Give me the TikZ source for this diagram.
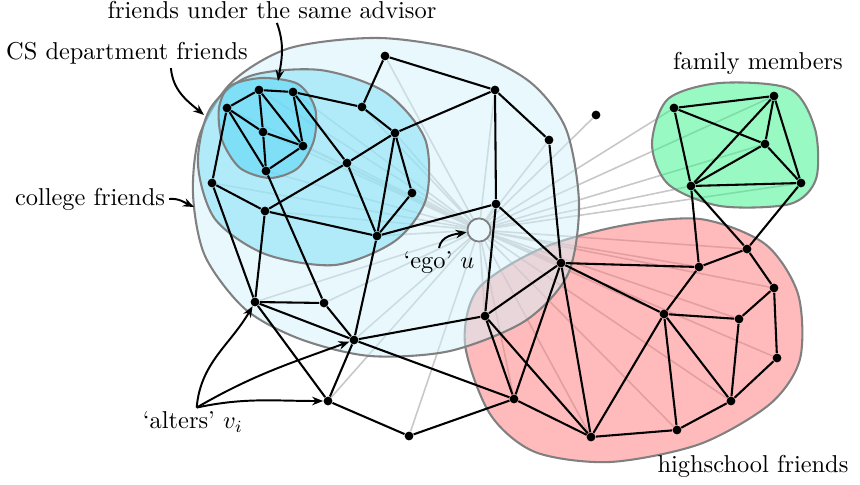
\documentclass[tikz,border=0pt]{standalone}
\usepackage{tikz}
\usetikzlibrary{arrows.meta, positioning, calc}
\definecolor{colblue}{RGB}{209,241,251}
\definecolor{csblue}{RGB}{124,224,247}
\definecolor{advblue}{RGB}{78,212,246}
\definecolor{famgreen}{RGB}{51,243,133}
\definecolor{hsred}{RGB}{255,119,119}
\definecolor{blobline}{RGB}{128,128,128}
\definecolor{egogray}{RGB}{200,200,200}
\pgfdeclarelayer{egoties}
\pgfdeclarelayer{blobs}
\pgfsetlayers{egoties,blobs,main}
\tikzset{
  alter/.style={circle, fill=black, inner sep=0pt, minimum size=3.6pt},
  egonode/.style={circle, draw=blobline, line width=0.75pt,
    minimum size=9.5pt, inner sep=0pt},
  blob/.style={draw=blobline, line width=0.85pt, fill opacity=0.5},
  tie/.style={line width=0.85pt, color=black},
  egotie/.style={line width=0.65pt, color=egogray},
  lbl/.style={font=\normalsize, inner sep=1.5pt},
  arrow/.style={-{Stealth[length=4.5pt,width=3.5pt]}, line width=0.8pt}
}

\begin{document}
\begin{tikzpicture}[x=0.0144cm, y=0.0144cm]
  \useasboundingbox (0,0) rectangle (860,484);

  % Ego in the middle
  \node[egonode] (ego) at (479,254) {};

  % Alters, each tied to the ego
  \foreach \n/\x/\y in {adv1/227/376, adv2/259/394, adv3/293/392, adv4/263/352,
      adv5/303/338, adv6/266/313,
      cs1/212/301, cs2/265/273, cs3/362/377, cs4/395/351, cs5/347/321,
      cs6/412/291, cs7/377/248,
      col1/385/428, col2/495/394, col3/549/344, col4/496/280, col5/255/182,
      col6/324/181, col7/354/144, col8/485/168, col9/561/221,
      lone1/596/369, lone2/328/83, lone3/409/48,
      hs1/514/85, hs2/591/47, hs3/664/170, hs4/699/217, hs5/747/235,
      hs6/774/196, hs7/739/165, hs8/777/126, hs9/731/83, hs10/677/54,
      fam1/674/376, fam2/774/388, fam3/765/340, fam4/691/298, fam5/801/301}{
    \node[alter] (\n) at (\x,\y) {};
    \begin{pgfonlayer}{egoties}
      \draw[egotie] (ego) -- (\n);
    \end{pgfonlayer}
  }

  % Circles of friends
  \begin{pgfonlayer}{blobs}
    \draw[blob, fill=hsred] plot[smooth cycle] coordinates {(465,140) (478,195)
      (540,235) (620,258) (700,265) (765,240) (798,190) (800,125) (770,80)
      (700,40) (610,22) (535,32) (490,70)};
    \draw[blob, fill=famgreen] plot[smooth cycle] coordinates {(652,340) (668,385)
      (720,401) (790,395) (815,355) (816,305) (790,280) (720,278) (668,300)};
    \draw[blob, fill=colblue] plot[smooth cycle] coordinates {(193,290) (200,350)
      (232,402) (290,436) (380,446) (470,432) (530,402) (566,355) (579,280)
      (568,210) (525,163) (450,133) (370,128) (300,145) (245,175) (205,228)};
    \draw[blob, fill=csblue] plot[smooth cycle] coordinates {(198,320) (210,375)
      (250,408) (320,414) (385,392) (425,345) (426,285) (395,243) (335,219)
      (265,230) (215,265)};
    \draw[blob, fill=advblue] plot[smooth cycle] coordinates {(219,376) (230,398)
      (262,406) (298,400) (315,376) (314,344) (298,316) (270,306) (240,316)
      (222,344)};
  \end{pgfonlayer}

  % Ties between alters
  \foreach \u/\v in {adv1/adv2, adv2/adv3, adv1/adv4, adv1/adv6, adv2/adv4,
      adv4/adv6, adv2/adv5, adv4/adv5, adv3/adv5, adv5/adv6, adv3/cs3, adv3/cs5,
      adv1/cs1, adv6/col6,
      cs3/col1, cs3/cs4, cs4/col2, cs4/cs5, cs4/cs7, cs4/cs6, cs6/cs7, cs5/cs2,
      cs5/cs7, cs1/cs2, cs1/col5, cs2/cs7, cs2/col5, cs7/col4, cs7/col7,
      col1/col2, col2/col3, col2/col4, col3/col9, col4/col9, col4/col8,
      col5/col6, col5/col7, col5/lone2, col6/col7, col7/col8, col7/lone2,
      col7/hs1, col8/col9, col8/hs1, col8/hs2, col9/hs1, col9/hs2, col9/hs3,
      col9/hs4, lone2/lone3, lone3/hs1,
      hs1/hs2, hs2/hs3, hs2/hs10, hs3/hs4, hs3/hs7, hs3/hs9, hs3/hs10, hs4/hs5,
      hs5/hs6, hs6/hs7, hs6/hs8, hs7/hs9, hs8/hs9, hs9/hs10,
      hs4/fam4, hs5/fam4, hs5/fam5,
      fam1/fam2, fam1/fam3, fam1/fam4, fam2/fam3, fam2/fam4, fam2/fam5,
      fam3/fam4, fam3/fam5, fam4/fam5}
    \draw[tie] (\u) -- (\v);

  % Labels
  \node[lbl] (advlbl) at (272,474) {friends under the same advisor};
  \node[lbl] (cslbl) at (127,431) {CS department friends};
  \node[lbl] (collbl) at (90,285) {college friends};
  \node[lbl] (famlbl) at (758,421) {family members};
  \node[lbl] (hslbl) at (753,18) {highschool friends};
  \node[lbl] (egolbl) at (439,221) {`ego' $u$};
  \node[lbl] (alterslbl) at (193,62) {`alters' $v_i$};

  \coordinate (advtop) at (278,403);
  \coordinate (csleft) at (204,369);
  \coordinate (colleft) at (194,277);

  \draw[arrow] ([xshift=2pt]advlbl.south) to[out=-70, in=80] (advtop);
  \draw[arrow] ([xshift=18pt]cslbl.south) to[out=-85, in=140] (csleft);
  \draw[arrow] (collbl.east) to[out=5, in=155] (colleft);
  \draw[arrow] (egolbl.north) to[out=80, in=190] (ego);
  \draw[arrow] ([xshift=1.5pt]alterslbl.north) to[out=85, in=240] (col5);
  \draw[arrow] ([xshift=1.5pt]alterslbl.north) to[out=30, in=200] (col7);
  \draw[arrow] ([xshift=1.5pt]alterslbl.north) to[out=12, in=180] (lone2);
\end{tikzpicture}
\end{document}
